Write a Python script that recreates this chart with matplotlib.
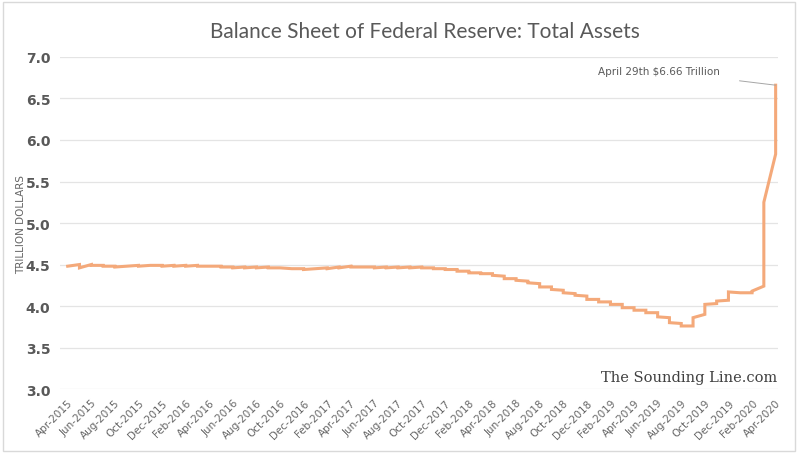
import numpy as np
import pandas as pd
import matplotlib
matplotlib.use("Agg")
import matplotlib.pyplot as plt
from matplotlib.patches import Rectangle

# monthly first-week and last-week values, Apr-2015 .. Apr-2020 (trillion $)
month_open = [
    4.48, 4.50, 4.50, 4.49, 4.48, 4.48, 4.49, 4.49, 4.49,        # 2015
    4.49, 4.49, 4.49, 4.48, 4.48, 4.47, 4.47, 4.47, 4.47, 4.46, 4.45, 4.45,  # 2016
    4.45, 4.46, 4.47, 4.48, 4.47, 4.47, 4.47, 4.47, 4.47, 4.47, 4.46, 4.45,  # 2017
    4.44, 4.42, 4.40, 4.39, 4.36, 4.33, 4.30, 4.27, 4.23, 4.19, 4.15, 4.12,  # 2018
    4.08, 4.05, 4.02, 3.98, 3.95, 3.92, 3.86, 3.79, 3.76, 3.90, 4.03, 4.07,  # 2019
    4.16, 4.16, 4.24, 5.83,                                      # 2020
]
month_close = [
    4.48, 4.46, 4.49, 4.48, 4.47, 4.48, 4.48, 4.49, 4.48,
    4.48, 4.48, 4.48, 4.48, 4.47, 4.46, 4.46, 4.46, 4.46, 4.46, 4.45, 4.44,
    4.45, 4.45, 4.46, 4.47, 4.47, 4.46, 4.46, 4.46, 4.46, 4.46, 4.45, 4.44,
    4.42, 4.40, 4.39, 4.37, 4.33, 4.31, 4.28, 4.23, 4.20, 4.16, 4.13, 4.08,
    4.05, 4.02, 3.98, 3.95, 3.92, 3.87, 3.80, 3.76, 3.86, 4.02, 4.06, 4.17,
    4.16, 4.18, 5.25, 6.66,
]
months = pd.date_range("2015-04-01", "2020-04-01", freq="MS")
tick_labels = [d.strftime("%b-%Y") for d in months[::2]]

# weekly points of a month share one x position (month axis)
x = np.repeat(np.arange(len(months)), 2)
y = np.column_stack([month_open, month_close]).ravel()

fig = plt.figure(figsize=(8, 4.6), dpi=100)
fig.patch.set_facecolor("white")
fig.patches.append(Rectangle((0.004, 0.017), 0.99, 0.976, transform=fig.transFigure,
                             fill=False, edgecolor="#d9d9d9", linewidth=1.0))
ax = fig.add_axes([0.075, 0.152, 0.8975, 0.722])

ax.plot(x, y, color="#f4a97a", linewidth=2.2, solid_joinstyle="miter")

ax.set_ylim(3.0, 7.0)
ax.set_yticks(np.arange(3.0, 7.01, 0.5))
ax.set_yticklabels([f"{v:.1f}" for v in np.arange(3.0, 7.01, 0.5)],
                   fontsize=10, color="#595959", fontweight="bold")
ax.set_xlim(-0.65, 60.2)
ax.set_xticks(np.arange(0, len(months), 2))
ax.set_xticklabels(tick_labels, rotation=45, ha="right", rotation_mode="anchor",
                   fontsize=7.5, color="#666666")
ax.tick_params(axis="both", length=0)
ax.tick_params(axis="x", pad=6)
ax.tick_params(axis="y", pad=7)
ax.grid(axis="y", color="#e4e4e4", linewidth=0.9)
ax.set_axisbelow(True)
for s in ax.spines.values():
    s.set_visible(False)

ax.set_ylabel("TRILLION DOLLARS", fontsize=7.5, color="#666666")
ax.yaxis.set_label_coords(-0.047, 0.5)

fig.text(0.531, 0.93, "Balance Sheet of Federal Reserve: Total Assets",
         ha="center", va="center", fontsize=15, color="#595959", family="Lato")

ax.annotate("April 29th $6.66 Trillion", xy=(60, 6.66), xytext=(55.3, 6.83),
            ha="right", va="center", fontsize=7.5, color="#595959",
            arrowprops=dict(arrowstyle="-", color="#a6a6a6", linewidth=0.7,
                            shrinkA=12, shrinkB=0))

fig.text(0.972, 0.178, "The Sounding Line.com", ha="right", va="center",
         fontsize=10.5, color="#404040", family="DejaVu Serif")

fig.savefig("out.png", dpi=100)
